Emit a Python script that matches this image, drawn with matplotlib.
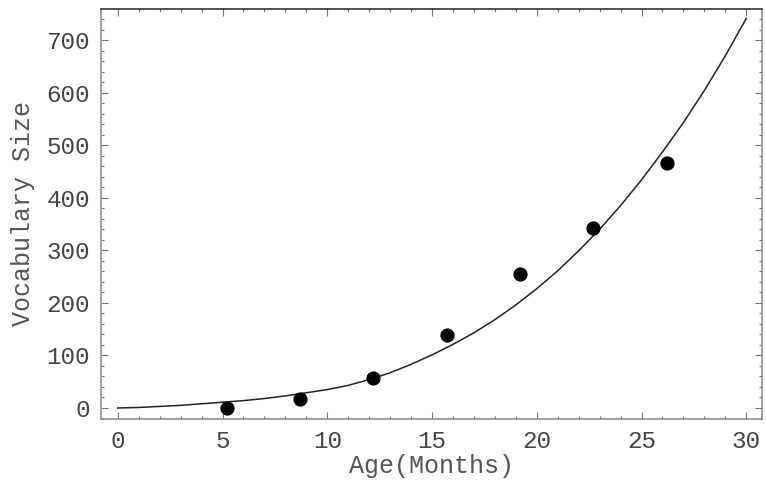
import matplotlib
matplotlib.use('Agg')
import matplotlib.pyplot as plt
from matplotlib.ticker import MultipleLocator

# observed vocabulary size at each age
ages = [5.2, 8.7, 12.2, 15.7, 19.2, 22.7, 26.2]
vocab = [0, 17, 57, 139, 255, 342, 466]

curve_age = list(range(0, 31))
curve_vocab = [0, 1, 3, 5, 8, 11, 14, 18, 23, 29, 35, 43, 54, 67, 83, 101,
               121, 143, 168, 196, 227, 261, 299, 340, 385, 434, 487, 543,
               604, 670, 741]

x_ticks = [0, 5, 10, 15, 20, 25, 30]
y_ticks = [0, 100, 200, 300, 400, 500, 600, 700]

plt.rcParams['font.family'] = ['Liberation Mono', 'DejaVu Sans Mono']

fig = plt.figure(figsize=(7.66, 4.88), dpi=100)
ax = fig.add_axes([101 / 766, 1 - 418.5 / 488, (762 - 101) / 766, (418.5 - 9) / 488])

ax.plot(curve_age, curve_vocab, color='#222222', lw=1.1, zorder=2)
ax.scatter(ages, vocab, s=85, color='black', zorder=3)

ax.set_xlim(-0.8, 30.75)
ax.set_ylim(-20, 759)
ax.set_xticks(x_ticks)
ax.set_yticks(y_ticks)
ax.xaxis.set_minor_locator(MultipleLocator(1))
ax.yaxis.set_minor_locator(MultipleLocator(20))

ax.tick_params(which='both', direction='in', top=True, right=True,
               colors='#777777', labelcolor='#444444', labelsize=17.5, width=0.8)
ax.tick_params(which='major', length=5, pad=8)
ax.tick_params(which='minor', length=2.5)

for side, spine in ax.spines.items():
    spine.set_color('#888888')
    spine.set_linewidth(1.1)
ax.spines['top'].set_color('#222222')

ax.set_xlabel('Age(Months)', fontsize=18, color='#555555', labelpad=1)
ax.set_ylabel('Vocabulary Size', fontsize=18, color='#555555', labelpad=8)

fig.savefig('out.png', dpi=100)
